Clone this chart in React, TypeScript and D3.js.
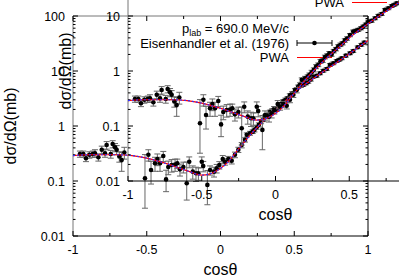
import React, { useEffect, useRef } from 'react';
import * as d3 from 'd3';

// Eisenhandler et al. (1976), p_lab = 690 MeV/c
const cosTheta = [
  -0.953, -0.93, -0.912, -0.889, -0.866, -0.851, -0.828, -0.805, -0.783, -0.772,
  -0.744, -0.731, -0.715, -0.704, -0.686, -0.67, -0.652,
  -0.512, -0.489, -0.471, -0.444, -0.428, -0.41, -0.388, -0.369, -0.354, -0.331,
  -0.308, -0.293, -0.275, -0.252, -0.229, -0.212, -0.188, -0.166, -0.15, -0.127,
  -0.117, -0.089, -0.071, -0.044, -0.026, -0.008, 0.015, 0.031, 0.053, 0.076,
  0.098, 0.121, 0.144, 0.166, 0.178, 0.2, 0.218,
  0.23, 0.245, 0.26, 0.275, 0.29, 0.305, 0.32, 0.335, 0.35, 0.365, 0.38, 0.395,
  0.41, 0.425, 0.44, 0.455, 0.47, 0.485, 0.505, 0.527, 0.545, 0.561, 0.58, 0.595,
  0.612, 0.629, 0.652, 0.675, 0.697, 0.72, 0.742, 0.765, 0.788, 0.805, 0.822,
  0.85, 0.878, 0.9, 0.93, 0.955, 0.975,
];
const dSigma = [
  0.31, 0.31, 0.26, 0.3, 0.31, 0.32, 0.27, 0.37, 0.32, 0.45,
  0.31, 0.47, 0.41, 0.37, 0.28, 0.24, 0.33,
  0.112, 0.3, 0.158, 0.21, 0.25, 0.21, 0.285, 0.107, 0.18, 0.195,
  0.2, 0.21, 0.163, 0.18, 0.091, 0.224, 0.148, 0.138, 0.138, 0.224,
  0.187, 0.085, 0.158, 0.148, 0.17, 0.195, 0.25, 0.224, 0.25, 0.234,
  0.3, 0.37, 0.45, 0.56, 0.69, 0.74, 0.79,
  0.85, 0.95, 1.05, 1.2, 1.3, 1.5, 1.55, 1.8, 1.9, 2.1, 2.0, 2.3,
  2.5, 2.8, 3.0, 3.2, 3.6, 3.9, 4.5, 5.2, 5.4, 5.6, 6.0, 6.4,
  7.0, 7.9, 8.2, 9.1, 10.1, 10.9, 12.9, 13.8, 15.2, 16, 17,
  19, 21, 23, 27, 30, 33,
];
// upper error
const dSigmaErr = [
  0.04, 0.04, 0.035, 0.04, 0.04, 0.05, 0.04, 0.06, 0.05, 0.07,
  0.05, 0.07, 0.07, 0.07, 0.06, 0.09, 0.08,
  0.19, 0.07, 0.07, 0.06, 0.06, 0.06, 0.06, 0.05, 0.05, 0.05,
  0.05, 0.04, 0.04, 0.04, 0.13, 0.05, 0.04, 0.04, 0.035, 0.05,
  0.04, 0.07, 0.03, 0.03, 0.03, 0.03, 0.04, 0.03, 0.03, 0.03,
  0.035, 0.04, 0.05, 0.05, 0.06, 0.06, 0.06,
  0.07, 0.08, 0.09, 0.1, 0.1, 0.12, 0.12, 0.14, 0.15, 0.16, 0.15, 0.17,
  0.18, 0.2, 0.22, 0.23, 0.26, 0.28, 0.3, 0.35, 0.35, 0.37, 0.4, 0.42,
  0.45, 0.5, 0.5, 0.55, 0.6, 0.65, 0.75, 0.8, 0.9, 0.95, 1.0,
  1.1, 1.2, 1.3, 1.5, 1.7, 1.9,
];
// lower error
const dSigmaErrLow = [
  0.04, 0.04, 0.035, 0.04, 0.04, 0.05, 0.04, 0.06, 0.05, 0.07,
  0.05, 0.07, 0.07, 0.07, 0.06, 0.09, 0.08,
  0.08, 0.07, 0.07, 0.06, 0.06, 0.06, 0.06, 0.043, 0.05, 0.05,
  0.05, 0.04, 0.04, 0.04, 0.046, 0.05, 0.04, 0.04, 0.035, 0.05,
  0.04, 0.048, 0.03, 0.03, 0.03, 0.03, 0.04, 0.03, 0.03, 0.03,
  0.035, 0.04, 0.05, 0.05, 0.06, 0.06, 0.06,
  0.07, 0.08, 0.09, 0.1, 0.1, 0.12, 0.12, 0.14, 0.15, 0.16, 0.15, 0.17,
  0.18, 0.2, 0.22, 0.23, 0.26, 0.28, 0.3, 0.35, 0.35, 0.37, 0.4, 0.42,
  0.45, 0.5, 0.5, 0.55, 0.6, 0.65, 0.75, 0.8, 0.9, 0.95, 1.0,
  1.1, 1.2, 1.3, 1.5, 1.7, 1.9,
];

// PWA curve
const pwaCos = [
  -1, -0.9, -0.8, -0.7, -0.6, -0.5, -0.4, -0.3, -0.2, -0.13, -0.07, 0, 0.05, 0.1,
  0.15, 0.2, 0.25, 0.3, 0.35, 0.4, 0.45, 0.5, 0.55, 0.6, 0.65, 0.7, 0.75, 0.8,
  0.85, 0.9, 0.95, 1,
];
const pwaValue = [
  0.29, 0.3, 0.3, 0.3, 0.29, 0.26, 0.22, 0.18, 0.145, 0.128, 0.135, 0.17, 0.22,
  0.32, 0.47, 0.68, 0.95, 1.3, 1.75, 2.3, 3.0, 4.0, 5.1, 6.4, 8.0, 9.9, 12.2, 15,
  18.5, 23, 29, 36,
];

const xTicks = [-1, -0.5, 0, 0.5, 1];
const xTickLabels = ['-1', '-0.5', '0', '0.5', '1'];
const xMinorTicks = [-0.75, -0.25, 0.25, 0.75];
const yTicks = [0.01, 0.1, 1, 10, 100];
const yTickLabels = ['0.01', '0.1', '1', '10', '100'];

const keyData = 'Eisenhandler et al. (1976)';
const keyCurve = 'PWA';

const FONT = '"Liberation Sans", Arial, Helvetica, sans-serif';

const W = 399;
const H = 279;

function drawPanel(root: d3.Selection<SVGGElement, unknown, null, undefined>, dx: number, dy: number, id: string) {
  const left = 73 + dx;
  const top = 16 + dy;
  const w = 295;
  const h = 220;

  const x = d3.scaleLinear().domain([-1, 1]).range([left, left + w]);
  const y = d3.scaleLog().domain([0.01, 100]).range([top + h, top]);

  const g = root.append('g');

  // frame
  g.append('line').attr('x1', left).attr('x2', left).attr('y1', top).attr('y2', top + h).attr('stroke', '#777');
  g.append('line').attr('x1', left).attr('x2', left + w).attr('y1', top).attr('y2', top).attr('stroke', '#777');
  g.append('line').attr('x1', left).attr('x2', left + w).attr('y1', top + h).attr('y2', top + h).attr('stroke', '#000');
  g.append('line').attr('x1', left + w).attr('x2', left + w).attr('y1', top).attr('y2', top + h).attr('stroke', '#000');

  // x ticks (bottom + mirrored top)
  const allX = [...xTicks.map((v) => ({ v, len: 5 })), ...xMinorTicks.map((v) => ({ v, len: 3 }))];
  allX.forEach((t) => {
    const px = x(t.v);
    g.append('line').attr('x1', px).attr('x2', px).attr('y1', top + h).attr('y2', top + h - t.len).attr('stroke', '#000');
    g.append('line').attr('x1', px).attr('x2', px).attr('y1', top).attr('y2', top + t.len).attr('stroke', '#000');
  });

  // y ticks (log, left + mirrored right)
  yTicks.forEach((d, i) => {
    const py = y(d);
    g.append('line').attr('x1', left).attr('x2', left + 5).attr('y1', py).attr('y2', py).attr('stroke', '#000');
    g.append('line').attr('x1', left + w).attr('x2', left + w - 5).attr('y1', py).attr('y2', py).attr('stroke', '#000');
    if (i < yTicks.length - 1) {
      for (let k = 2; k < 10; k++) {
        const my = y(d * k);
        g.append('line').attr('x1', left).attr('x2', left + 2.5).attr('y1', my).attr('y2', my).attr('stroke', '#000');
        g.append('line').attr('x1', left + w).attr('x2', left + w - 2.5).attr('y1', my).attr('y2', my).attr('stroke', '#000');
      }
    }
  });

  // tick labels
  g.selectAll(null)
    .data(xTicks)
    .enter()
    .append('text')
    .attr('x', (d) => x(d))
    .attr('y', top + h + 17.5)
    .attr('text-anchor', 'middle')
    .style('font-family', FONT)
    .style('font-size', '12.5px')
    .text((_, i) => xTickLabels[i]);

  g.selectAll(null)
    .data(yTicks)
    .enter()
    .append('text')
    .attr('x', left - 8)
    .attr('y', (d) => y(d) + 4.5)
    .attr('text-anchor', 'end')
    .style('font-family', FONT)
    .style('font-size', '12.5px')
    .text((_, i) => yTickLabels[i]);

  // axis labels
  g.append('text')
    .attr('x', left + w / 2)
    .attr('y', top + h + 39)
    .attr('text-anchor', 'middle')
    .style('font-family', FONT)
    .style('font-size', '16px')
    .text('cosθ');

  g.append('text')
    .attr('transform', `translate(${left - 57},${top + h / 2}) rotate(-90)`)
    .attr('text-anchor', 'middle')
    .style('font-family', FONT)
    .style('font-size', '16px')
    .text('dσ/dΩ(mb)');

  // clip
  root
    .append('clipPath')
    .attr('id', id)
    .append('rect')
    .attr('x', left)
    .attr('y', top)
    .attr('width', w)
    .attr('height', h);

  const plot = g.append('g').attr('clip-path', `url(#${id})`);

  // error bars
  cosTheta.forEach((c, i) => {
    const v = dSigma[i];
    const lo = v - dSigmaErrLow[i];
    const hi = v + dSigmaErr[i];
    const px = x(c);
    plot.append('line').attr('x1', px).attr('x2', px).attr('y1', y(lo)).attr('y2', y(hi)).attr('stroke', '#666').attr('stroke-width', 1);
    plot.append('line').attr('x1', px - 3).attr('x2', px + 3).attr('y1', y(lo)).attr('y2', y(lo)).attr('stroke', '#666');
    plot.append('line').attr('x1', px - 3).attr('x2', px + 3).attr('y1', y(hi)).attr('y2', y(hi)).attr('stroke', '#666');
  });

  plot
    .selectAll('circle')
    .data(cosTheta)
    .enter()
    .append('circle')
    .attr('cx', (d) => x(d))
    .attr('cy', (_, i) => y(dSigma[i]))
    .attr('r', 2.3)
    .attr('fill', '#000');

  const line = d3
    .line<number>()
    .x((d) => x(d))
    .y((_, i) => y(pwaValue[i]))
    .curve(d3.curveMonotoneX);

  plot.append('path').attr('d', line(pwaCos)).attr('fill', 'none').attr('stroke', '#ff0000').attr('stroke-width', 1.2);
  plot
    .append('path')
    .attr('d', line(pwaCos))
    .attr('fill', 'none')
    .attr('stroke', '#3030ff')
    .attr('stroke-width', 1.2)
    .attr('stroke-dasharray', '2,2');

  // key
  const keyRight = left + w - 79;
  const sx1 = left + w - 71;
  const sx2 = left + w - 36;
  const rows = [top + 12, top + 27, top + 41.5];

  const title = g
    .append('text')
    .attr('x', keyRight)
    .attr('y', rows[0] + 4.5)
    .attr('text-anchor', 'end')
    .style('font-family', FONT)
    .style('font-size', '13px');
  title.append('tspan').text('p');
  title.append('tspan').attr('dy', 3).style('font-size', '9px').text('lab');
  title.append('tspan').attr('dy', -3).text(' = 690.0 MeV/c');

  g.append('text')
    .attr('x', keyRight)
    .attr('y', rows[1] + 4.5)
    .attr('text-anchor', 'end')
    .style('font-family', FONT)
    .style('font-size', '13px')
    .text(keyData);
  g.append('line').attr('x1', sx1).attr('x2', sx2).attr('y1', rows[1]).attr('y2', rows[1]).attr('stroke', '#000');
  g.append('line').attr('x1', sx1).attr('x2', sx1).attr('y1', rows[1] - 3).attr('y2', rows[1] + 3).attr('stroke', '#000');
  g.append('line').attr('x1', sx2).attr('x2', sx2).attr('y1', rows[1] - 3).attr('y2', rows[1] + 3).attr('stroke', '#000');
  g.append('circle').attr('cx', (sx1 + sx2) / 2).attr('cy', rows[1]).attr('r', 2.3).attr('fill', '#000');

  g.append('text')
    .attr('x', keyRight)
    .attr('y', rows[2] + 4.5)
    .attr('text-anchor', 'end')
    .style('font-family', FONT)
    .style('font-size', '13px')
    .text(keyCurve);
  g.append('line').attr('x1', sx1).attr('x2', sx2).attr('y1', rows[2]).attr('y2', rows[2]).attr('stroke', '#ff0000');
}

export default function App() {
  const ref = useRef<SVGSVGElement>(null);

  useEffect(() => {
    if (!ref.current) return;
    const svg = d3.select(ref.current);
    svg.selectAll('*').remove();
    const root = svg.append('g');
    drawPanel(root, 0, 0, 'clip-main');
    drawPanel(root, 55, -55, 'clip-inset');
  }, []);

  return (
    <svg
      ref={ref}
      width={W}
      height={H}
      style={{ position: 'absolute', left: 0, top: 0, background: '#fff' }}
    />
  );
}
